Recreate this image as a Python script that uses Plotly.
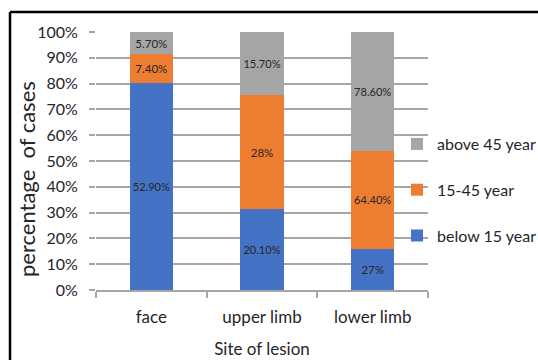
import plotly.graph_objects as go

# Site of lesion by age group (values as reported, stacked to 100%)
sites = ["face", "upper limb", "lower limb"]
below_15 = [52.9, 20.1, 27]
age_15_45 = [7.4, 28, 64.4]
above_45 = [5.7, 15.7, 78.6]
series_names = ["below 15 year", "15-45 year", "above 45 year"]
series_colors = ["#4472C4", "#ED7D31", "#A5A5A5"]
y_tick_values = [0, 10, 20, 30, 40, 50, 60, 70, 80, 90, 100]
y_tick_labels = [f"{v}%" for v in y_tick_values]

FONT = "Lato, 'Open Sans', sans-serif"
TEXT_COLOR = "#262626"
GRID = "#A6A6A6"

W, H = 538, 360
ML, MR, MT, MB = 96, 110, 32, 70
PW, PH = W - ML - MR, H - MT - MB


def pct_label(v):
    return f"{v:g}%" if float(v).is_integer() else f"{v:.2f}%"


def px_x(x):
    return (x - ML) / PW


def px_y(y):
    return (H - MB - y) / PH


fig = go.Figure()
series = [below_15, age_15_45, above_45]
for i, (name, vals, col) in enumerate(zip(series_names, series, series_colors)):
    fig.add_trace(go.Bar(
        x=sites,
        y=vals,
        name=name,
        legendgroup=name,
        legendrank=len(series) - i,  # top segment listed first
        marker=dict(color=col, line=dict(width=0)),
        text=[pct_label(v) for v in vals],
        texttemplate="%{text}",
        textposition="inside",
        insidetextanchor="middle",
        textangle=0,
        textfont=dict(family=FONT, size=11.5, color=TEXT_COLOR),
        hoverinfo="skip",
    ))

fig.update_layout(
    width=W,
    height=H,
    barmode="stack",
    barnorm="percent",
    bargap=0.61,
    paper_bgcolor="white",
    plot_bgcolor="white",
    margin=dict(l=ML, r=MR, t=MT, b=MB, autoexpand=False),
    font=dict(family=FONT, color=TEXT_COLOR),
    showlegend=True,
    legend=dict(
        x=px_x(397), y=px_y(127), xanchor="left", yanchor="top",
        traceorder="grouped",
        tracegroupgap=22,
        font=dict(family=FONT, size=16, color=TEXT_COLOR),
        bgcolor="rgba(0,0,0,0)",
        itemwidth=30,
    ),
    xaxis=dict(
        range=[-0.5, 2.5],
        showline=True, linecolor=GRID, linewidth=2,
        ticks="outside", tickson="boundaries", ticklen=6,
        tickcolor=GRID, tickwidth=2,
        ticklabelstandoff=11,
        tickfont=dict(family=FONT, size=17, color=TEXT_COLOR),
        showgrid=False, zeroline=False,
        title=dict(text="Site of lesion", standoff=17,
                   font=dict(family=FONT, size=17, color=TEXT_COLOR)),
    ),
    yaxis=dict(
        range=[0, 100],
        tickmode="array", tickvals=y_tick_values, ticktext=y_tick_labels,
        showgrid=True, gridcolor=GRID, gridwidth=2,
        ticks="outside", ticklen=6, tickcolor=GRID, tickwidth=2,
        ticklabelstandoff=8,
        tickfont=dict(family=FONT, size=16, color=TEXT_COLOR),
        showline=False, zeroline=False,
    ),
    annotations=[dict(
        text="percentage  of cases",
        xref="paper", yref="paper",
        x=px_x(26), y=px_y(179),
        xanchor="center", yanchor="middle",
        textangle=-90, showarrow=False,
        font=dict(family=FONT, size=22, color=TEXT_COLOR),
    )],
    shapes=[
        # frame edges along the top and left
        dict(type="line", xref="paper", yref="paper",
             x0=px_x(10), x1=px_x(W + 5), y0=px_y(12), y1=px_y(12),
             line=dict(color="black", width=2.5)),
        dict(type="line", xref="paper", yref="paper",
             x0=px_x(10), x1=px_x(10), y0=px_y(12), y1=px_y(H + 5),
             line=dict(color="black", width=2.5)),
    ],
)

fig.write_html("out.html")
